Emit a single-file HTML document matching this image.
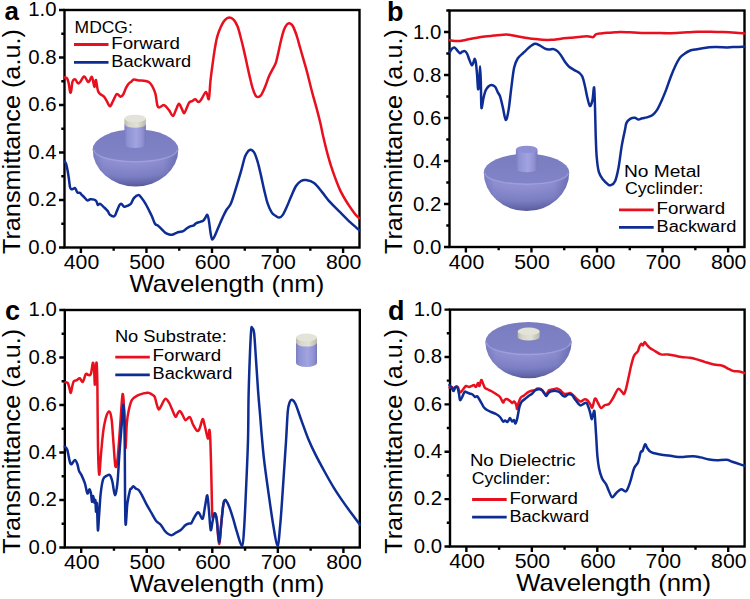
<!DOCTYPE html>
<html><head><meta charset="utf-8"><title>Transmittance spectra</title>
<style>html,body{margin:0;padding:0;background:#fff;width:750px;height:599px;overflow:hidden}</style>
</head><body><svg width="750" height="599" viewBox="0 0 750 599" style="display:block;font-family:'Liberation Sans', sans-serif"><defs>
<radialGradient id="bowl" cx="0.45" cy="0.0" r="1.05" fx="0.45" fy="0.0">
 <stop offset="0" stop-color="#9799d8"/><stop offset="0.4" stop-color="#8c8ed0"/><stop offset="0.7" stop-color="#7c7ec3"/><stop offset="0.88" stop-color="#6466aa"/><stop offset="1" stop-color="#4a4c8e"/>
</radialGradient>
<linearGradient id="bowlside" x1="0" y1="0" x2="1" y2="0">
 <stop offset="0" stop-color="#5a5ca0" stop-opacity="0.35"/><stop offset="0.12" stop-color="#5a5ca0" stop-opacity="0"/><stop offset="0.82" stop-color="#5a5ca0" stop-opacity="0"/><stop offset="1" stop-color="#4c4e92" stop-opacity="0.45"/>
</linearGradient>
<linearGradient id="topf" x1="0" y1="0" x2="0" y2="1">
 <stop offset="0" stop-color="#7a7cc0"/><stop offset="1" stop-color="#8284c8"/>
</linearGradient>
<linearGradient id="cylb" x1="0" y1="0" x2="1" y2="0">
 <stop offset="0" stop-color="#7a7dc1"/><stop offset="0.15" stop-color="#8f92d3"/><stop offset="0.55" stop-color="#a2a4e0"/><stop offset="0.85" stop-color="#8e90d2"/><stop offset="1" stop-color="#7678bc"/>
</linearGradient>
<linearGradient id="caps" x1="0" y1="0" x2="1" y2="0">
 <stop offset="0" stop-color="#b9b9ab"/><stop offset="0.2" stop-color="#d6d6ca"/><stop offset="0.6" stop-color="#e2e1d6"/><stop offset="1" stop-color="#b8b8aa"/>
</linearGradient>
</defs><g fill="#000"><text x="4.60" y="19.50" font-size="26" text-anchor="start" font-weight="bold">a</text><text x="387.00" y="21.20" font-size="27" text-anchor="start" font-weight="bold">b</text><text x="5.00" y="319.50" font-size="27" text-anchor="start" font-weight="bold">c</text><text x="388.00" y="319.50" font-size="27" text-anchor="start" font-weight="bold">d</text></g><rect x="64.50" y="10.00" width="295.00" height="237.50" fill="none" stroke="#000" stroke-width="2.4"/><path d="M80.89 247.50V253.00M113.67 247.50V250.70M146.44 247.50V253.00M179.22 247.50V250.70M212.00 247.50V253.00M244.78 247.50V250.70M277.56 247.50V253.00M310.33 247.50V250.70M343.11 247.50V253.00M64.50 247.50H59.00M64.50 223.75H61.30M64.50 200.00H59.00M64.50 176.25H61.30M64.50 152.50H59.00M64.50 128.75H61.30M64.50 105.00H59.00M64.50 81.25H61.30M64.50 57.50H59.00M64.50 33.75H61.30M64.50 10.00H59.00" stroke="#000" stroke-width="2.4" fill="none"/><text x="81.49" y="269.10" font-size="19.5" text-anchor="middle" font-weight="normal" textLength="35.5" lengthAdjust="spacingAndGlyphs">400</text><text x="147.04" y="269.10" font-size="19.5" text-anchor="middle" font-weight="normal" textLength="35.5" lengthAdjust="spacingAndGlyphs">500</text><text x="212.60" y="269.10" font-size="19.5" text-anchor="middle" font-weight="normal" textLength="35.5" lengthAdjust="spacingAndGlyphs">600</text><text x="278.16" y="269.10" font-size="19.5" text-anchor="middle" font-weight="normal" textLength="35.5" lengthAdjust="spacingAndGlyphs">700</text><text x="343.71" y="269.10" font-size="19.5" text-anchor="middle" font-weight="normal" textLength="35.5" lengthAdjust="spacingAndGlyphs">800</text><text x="56.60" y="253.70" font-size="19.5" text-anchor="end" font-weight="normal" textLength="28.3" lengthAdjust="spacingAndGlyphs">0.0</text><text x="56.60" y="206.20" font-size="19.5" text-anchor="end" font-weight="normal" textLength="28.3" lengthAdjust="spacingAndGlyphs">0.2</text><text x="56.60" y="158.70" font-size="19.5" text-anchor="end" font-weight="normal" textLength="28.3" lengthAdjust="spacingAndGlyphs">0.4</text><text x="56.60" y="111.20" font-size="19.5" text-anchor="end" font-weight="normal" textLength="28.3" lengthAdjust="spacingAndGlyphs">0.6</text><text x="56.60" y="63.70" font-size="19.5" text-anchor="end" font-weight="normal" textLength="28.3" lengthAdjust="spacingAndGlyphs">0.8</text><text x="56.60" y="16.20" font-size="19.5" text-anchor="end" font-weight="normal" textLength="28.3" lengthAdjust="spacingAndGlyphs">1.0</text><rect x="449.50" y="10.50" width="295.00" height="236.50" fill="none" stroke="#000" stroke-width="2.4"/><path d="M465.89 247.00V252.50M498.67 247.00V250.20M531.44 247.00V252.50M564.22 247.00V250.20M597.00 247.00V252.50M629.78 247.00V250.20M662.56 247.00V252.50M695.33 247.00V250.20M728.11 247.00V252.50M449.50 247.00H444.00M449.50 225.50H446.30M449.50 204.00H444.00M449.50 182.50H446.30M449.50 161.00H444.00M449.50 139.50H446.30M449.50 118.00H444.00M449.50 96.50H446.30M449.50 75.00H444.00M449.50 53.50H446.30M449.50 32.00H444.00M449.50 10.50H446.30" stroke="#000" stroke-width="2.4" fill="none"/><text x="466.49" y="268.60" font-size="19.5" text-anchor="middle" font-weight="normal" textLength="35.5" lengthAdjust="spacingAndGlyphs">400</text><text x="532.04" y="268.60" font-size="19.5" text-anchor="middle" font-weight="normal" textLength="35.5" lengthAdjust="spacingAndGlyphs">500</text><text x="597.60" y="268.60" font-size="19.5" text-anchor="middle" font-weight="normal" textLength="35.5" lengthAdjust="spacingAndGlyphs">600</text><text x="663.16" y="268.60" font-size="19.5" text-anchor="middle" font-weight="normal" textLength="35.5" lengthAdjust="spacingAndGlyphs">700</text><text x="728.71" y="268.60" font-size="19.5" text-anchor="middle" font-weight="normal" textLength="35.5" lengthAdjust="spacingAndGlyphs">800</text><text x="441.30" y="254.40" font-size="19.5" text-anchor="end" font-weight="normal" textLength="28.3" lengthAdjust="spacingAndGlyphs">0.0</text><text x="441.30" y="211.40" font-size="19.5" text-anchor="end" font-weight="normal" textLength="28.3" lengthAdjust="spacingAndGlyphs">0.2</text><text x="441.30" y="168.40" font-size="19.5" text-anchor="end" font-weight="normal" textLength="28.3" lengthAdjust="spacingAndGlyphs">0.4</text><text x="441.30" y="125.40" font-size="19.5" text-anchor="end" font-weight="normal" textLength="28.3" lengthAdjust="spacingAndGlyphs">0.6</text><text x="441.30" y="82.40" font-size="19.5" text-anchor="end" font-weight="normal" textLength="28.3" lengthAdjust="spacingAndGlyphs">0.8</text><text x="441.30" y="39.40" font-size="19.5" text-anchor="end" font-weight="normal" textLength="28.3" lengthAdjust="spacingAndGlyphs">1.0</text><rect x="64.80" y="310.00" width="295.00" height="237.50" fill="none" stroke="#000" stroke-width="2.4"/><path d="M81.19 547.50V553.00M113.97 547.50V550.70M146.74 547.50V553.00M179.52 547.50V550.70M212.30 547.50V553.00M245.08 547.50V550.70M277.86 547.50V553.00M310.63 547.50V550.70M343.41 547.50V553.00M64.80 547.50H59.30M64.80 523.75H61.60M64.80 500.00H59.30M64.80 476.25H61.60M64.80 452.50H59.30M64.80 428.75H61.60M64.80 405.00H59.30M64.80 381.25H61.60M64.80 357.50H59.30M64.80 333.75H61.60M64.80 310.00H59.30" stroke="#000" stroke-width="2.4" fill="none"/><text x="81.79" y="569.10" font-size="19.5" text-anchor="middle" font-weight="normal" textLength="35.5" lengthAdjust="spacingAndGlyphs">400</text><text x="147.34" y="569.10" font-size="19.5" text-anchor="middle" font-weight="normal" textLength="35.5" lengthAdjust="spacingAndGlyphs">500</text><text x="212.90" y="569.10" font-size="19.5" text-anchor="middle" font-weight="normal" textLength="35.5" lengthAdjust="spacingAndGlyphs">600</text><text x="278.46" y="569.10" font-size="19.5" text-anchor="middle" font-weight="normal" textLength="35.5" lengthAdjust="spacingAndGlyphs">700</text><text x="344.01" y="569.10" font-size="19.5" text-anchor="middle" font-weight="normal" textLength="35.5" lengthAdjust="spacingAndGlyphs">800</text><text x="56.90" y="553.70" font-size="19.5" text-anchor="end" font-weight="normal" textLength="28.3" lengthAdjust="spacingAndGlyphs">0.0</text><text x="56.90" y="506.20" font-size="19.5" text-anchor="end" font-weight="normal" textLength="28.3" lengthAdjust="spacingAndGlyphs">0.2</text><text x="56.90" y="458.70" font-size="19.5" text-anchor="end" font-weight="normal" textLength="28.3" lengthAdjust="spacingAndGlyphs">0.4</text><text x="56.90" y="411.20" font-size="19.5" text-anchor="end" font-weight="normal" textLength="28.3" lengthAdjust="spacingAndGlyphs">0.6</text><text x="56.90" y="363.70" font-size="19.5" text-anchor="end" font-weight="normal" textLength="28.3" lengthAdjust="spacingAndGlyphs">0.8</text><text x="56.90" y="316.20" font-size="19.5" text-anchor="end" font-weight="normal" textLength="28.3" lengthAdjust="spacingAndGlyphs">1.0</text><rect x="450.00" y="309.60" width="294.60" height="236.90" fill="none" stroke="#000" stroke-width="2.4"/><path d="M466.37 546.50V552.00M499.10 546.50V549.70M531.83 546.50V552.00M564.57 546.50V549.70M597.30 546.50V552.00M630.03 546.50V549.70M662.77 546.50V552.00M695.50 546.50V549.70M728.23 546.50V552.00M450.00 546.50H444.50M450.00 522.81H446.80M450.00 499.12H444.50M450.00 475.43H446.80M450.00 451.74H444.50M450.00 428.05H446.80M450.00 404.36H444.50M450.00 380.67H446.80M450.00 356.98H444.50M450.00 333.29H446.80M450.00 309.60H444.50" stroke="#000" stroke-width="2.4" fill="none"/><text x="466.97" y="568.10" font-size="19.5" text-anchor="middle" font-weight="normal" textLength="35.5" lengthAdjust="spacingAndGlyphs">400</text><text x="532.43" y="568.10" font-size="19.5" text-anchor="middle" font-weight="normal" textLength="35.5" lengthAdjust="spacingAndGlyphs">500</text><text x="597.90" y="568.10" font-size="19.5" text-anchor="middle" font-weight="normal" textLength="35.5" lengthAdjust="spacingAndGlyphs">600</text><text x="663.37" y="568.10" font-size="19.5" text-anchor="middle" font-weight="normal" textLength="35.5" lengthAdjust="spacingAndGlyphs">700</text><text x="728.83" y="568.10" font-size="19.5" text-anchor="middle" font-weight="normal" textLength="35.5" lengthAdjust="spacingAndGlyphs">800</text><text x="442.10" y="552.70" font-size="19.5" text-anchor="end" font-weight="normal" textLength="28.3" lengthAdjust="spacingAndGlyphs">0.0</text><text x="442.10" y="505.32" font-size="19.5" text-anchor="end" font-weight="normal" textLength="28.3" lengthAdjust="spacingAndGlyphs">0.2</text><text x="442.10" y="457.94" font-size="19.5" text-anchor="end" font-weight="normal" textLength="28.3" lengthAdjust="spacingAndGlyphs">0.4</text><text x="442.10" y="410.56" font-size="19.5" text-anchor="end" font-weight="normal" textLength="28.3" lengthAdjust="spacingAndGlyphs">0.6</text><text x="442.10" y="363.18" font-size="19.5" text-anchor="end" font-weight="normal" textLength="28.3" lengthAdjust="spacingAndGlyphs">0.8</text><text x="442.10" y="315.80" font-size="19.5" text-anchor="end" font-weight="normal" textLength="28.3" lengthAdjust="spacingAndGlyphs">1.0</text><text transform="translate(19.60,141.60) rotate(-90)" x="0" y="0" font-size="24.8" text-anchor="middle" textLength="225" lengthAdjust="spacingAndGlyphs">Transmittance (a.u.)</text><text transform="translate(401.60,141.60) rotate(-90)" x="0" y="0" font-size="24.8" text-anchor="middle" textLength="225" lengthAdjust="spacingAndGlyphs">Transmittance (a.u.)</text><text transform="translate(19.60,441.30) rotate(-90)" x="0" y="0" font-size="24.8" text-anchor="middle" textLength="225" lengthAdjust="spacingAndGlyphs">Transmittance (a.u.)</text><text transform="translate(402.30,441.30) rotate(-90)" x="0" y="0" font-size="24.8" text-anchor="middle" textLength="225" lengthAdjust="spacingAndGlyphs">Transmittance (a.u.)</text><text x="129.50" y="292.00" font-size="24" text-anchor="start" font-weight="normal" textLength="194.8" lengthAdjust="spacingAndGlyphs">Wavelength (nm)</text><text x="129.50" y="591.80" font-size="24" text-anchor="start" font-weight="normal" textLength="194.8" lengthAdjust="spacingAndGlyphs">Wavelength (nm)</text><text x="516.20" y="591.20" font-size="24" text-anchor="start" font-weight="normal" textLength="194.8" lengthAdjust="spacingAndGlyphs">Wavelength (nm)</text><text x="74.60" y="33.00" font-size="16" text-anchor="start" font-weight="normal" textLength="58.2" lengthAdjust="spacingAndGlyphs">MDCG:</text><path d="M74.00 44.50H108.50" stroke="#e8101e" stroke-width="2.8"/><text x="111.30" y="48.70" font-size="16" text-anchor="start" font-weight="normal" textLength="68.6" lengthAdjust="spacingAndGlyphs">Forward</text><path d="M74.00 62.30H108.50" stroke="#0e2d94" stroke-width="2.8"/><text x="111.30" y="66.70" font-size="16" text-anchor="start" font-weight="normal" textLength="79.8" lengthAdjust="spacingAndGlyphs">Backward</text><text x="623.90" y="176.70" font-size="16" text-anchor="start" font-weight="normal" textLength="76.7" lengthAdjust="spacingAndGlyphs">No Metal</text><text x="625.00" y="193.50" font-size="16" text-anchor="start" font-weight="normal" textLength="78.5" lengthAdjust="spacingAndGlyphs">Cyclinder:</text><path d="M619.00 209.90H653.70" stroke="#e8101e" stroke-width="2.8"/><text x="656.60" y="213.90" font-size="16" text-anchor="start" font-weight="normal" textLength="68.6" lengthAdjust="spacingAndGlyphs">Forward</text><path d="M619.00 227.40H653.70" stroke="#0e2d94" stroke-width="2.8"/><text x="656.60" y="231.60" font-size="16" text-anchor="start" font-weight="normal" textLength="79.8" lengthAdjust="spacingAndGlyphs">Backward</text><text x="114.90" y="341.60" font-size="16" text-anchor="start" font-weight="normal" textLength="111.9" lengthAdjust="spacingAndGlyphs">No Substrate:</text><path d="M115.30 357.10H149.80" stroke="#e8101e" stroke-width="2.8"/><text x="152.60" y="361.40" font-size="16" text-anchor="start" font-weight="normal" textLength="68.6" lengthAdjust="spacingAndGlyphs">Forward</text><path d="M115.30 374.80H149.80" stroke="#0e2d94" stroke-width="2.8"/><text x="152.60" y="379.10" font-size="16" text-anchor="start" font-weight="normal" textLength="79.8" lengthAdjust="spacingAndGlyphs">Backward</text><text x="469.90" y="465.60" font-size="16" text-anchor="start" font-weight="normal" textLength="105.7" lengthAdjust="spacingAndGlyphs">No Dielectric</text><text x="471.80" y="484.00" font-size="16" text-anchor="start" font-weight="normal" textLength="78.5" lengthAdjust="spacingAndGlyphs">Cyclinder:</text><path d="M472.10 499.50H506.70" stroke="#e8101e" stroke-width="2.8"/><text x="509.40" y="503.60" font-size="16" text-anchor="start" font-weight="normal" textLength="68.6" lengthAdjust="spacingAndGlyphs">Forward</text><path d="M472.10 517.20H506.70" stroke="#0e2d94" stroke-width="2.8"/><text x="509.40" y="521.90" font-size="16" text-anchor="start" font-weight="normal" textLength="79.8" lengthAdjust="spacingAndGlyphs">Backward</text><path d="M92.70 149.30A42.80 37.20 0 0 0 178.30 149.30Z" fill="url(#bowl)"/><path d="M92.70 149.30A42.80 37.20 0 0 0 178.30 149.30Z" fill="url(#bowlside)"/><path d="M92.70 149.30A42.80 20.00 0 0 1 178.30 149.30A42.80 11.90 0 0 1 92.70 149.30Z" fill="url(#topf)"/><path d="M93.70 149.80A41.80 11.90 0 0 0 177.30 149.80" fill="none" stroke="#a8aae4" stroke-width="1.4" opacity="0.6"/><path d="M124.40 124.00V144.20A10.75 3.85 0 0 0 145.90 144.20V124.00Z" fill="url(#cylb)"/><path d="M124.40 118.50V124.00A10.75 3.85 0 0 0 145.90 124.00V118.50Z" fill="url(#caps)"/><ellipse cx="135.15" cy="118.50" rx="10.75" ry="3.85" fill="#e3e3d9"/><path d="M483.80 172.50A42.70 38.60 0 0 0 569.20 172.50Z" fill="url(#bowl)"/><path d="M483.80 172.50A42.70 38.60 0 0 0 569.20 172.50Z" fill="url(#bowlside)"/><path d="M483.80 172.50A42.70 18.80 0 0 1 569.20 172.50A42.70 11.20 0 0 1 483.80 172.50Z" fill="url(#topf)"/><path d="M484.80 173.00A41.70 11.20 0 0 0 568.20 173.00" fill="none" stroke="#a8aae4" stroke-width="1.4" opacity="0.6"/><path d="M515.90 149.40V168.70A10.80 3.60 0 0 0 537.50 168.70V149.40Z" fill="url(#cylb)"/><ellipse cx="526.70" cy="149.40" rx="10.80" ry="3.60" fill="#8e90d3"/><path d="M296.00 342.60V362.90A10.50 4.00 0 0 0 317.00 362.90V342.60Z" fill="url(#cylb)"/><path d="M296.00 337.50V342.60A10.50 4.00 0 0 0 317.00 342.60V337.50Z" fill="url(#caps)"/><ellipse cx="306.50" cy="337.50" rx="10.50" ry="4.00" fill="#e3e3d9"/><path d="M485.40 341.70A43.10 36.60 0 0 0 571.60 341.70Z" fill="url(#bowl)"/><path d="M485.40 341.70A43.10 36.60 0 0 0 571.60 341.70Z" fill="url(#bowlside)"/><path d="M485.40 341.70A43.10 19.80 0 0 1 571.60 341.70A43.10 12.30 0 0 1 485.40 341.70Z" fill="url(#topf)"/><path d="M486.40 342.20A42.10 12.30 0 0 0 570.60 342.20" fill="none" stroke="#a8aae4" stroke-width="1.4" opacity="0.6"/><path d="M517.70 331.30V336.90A11.00 3.70 0 0 0 539.70 336.90V331.30Z" fill="url(#caps)"/><ellipse cx="528.70" cy="331.30" rx="11.00" ry="3.70" fill="#e3e3d9"/><path d="M64.50 77.50C64.95 77.67 66.48 77.43 67.20 78.50C67.92 79.57 68.30 81.58 68.80 83.90C69.30 86.22 69.78 91.33 70.20 92.40C70.62 93.47 70.92 92.08 71.30 90.30C71.68 88.52 71.85 83.52 72.50 81.70C73.15 79.88 74.30 79.13 75.20 79.40C76.10 79.67 77.10 82.82 77.90 83.30C78.70 83.78 79.03 83.42 80.00 82.30C80.97 81.18 82.72 77.23 83.70 76.60C84.68 75.97 85.18 77.60 85.90 78.50C86.62 79.40 87.38 81.63 88.00 82.00C88.62 82.37 89.02 81.55 89.60 80.70C90.18 79.85 90.97 77.08 91.50 76.90C92.03 76.72 92.32 77.90 92.80 79.60C93.28 81.30 93.90 87.02 94.40 87.10C94.90 87.18 95.45 80.82 95.80 80.10C96.15 79.38 96.12 80.93 96.50 82.80C96.88 84.67 97.38 89.35 98.10 91.30C98.82 93.25 99.82 93.60 100.80 94.50C101.78 95.40 103.02 95.63 104.00 96.70C104.98 97.77 105.72 99.30 106.70 100.90C107.68 102.50 108.83 106.30 109.90 106.30C110.97 106.30 111.95 102.95 113.10 100.90C114.25 98.85 115.57 94.70 116.80 94.00C118.03 93.30 119.43 96.62 120.50 96.70C121.57 96.78 122.30 95.93 123.20 94.50C124.10 93.07 125.02 89.87 125.90 88.10C126.78 86.33 127.62 84.97 128.50 83.90C129.38 82.83 130.30 82.42 131.20 81.70C132.10 80.98 132.65 79.80 133.90 79.60C135.15 79.40 137.02 80.32 138.70 80.50C140.38 80.68 142.37 80.47 144.00 80.70C145.63 80.93 147.30 81.27 148.50 81.90C149.70 82.53 150.40 83.43 151.20 84.50C152.00 85.57 152.58 86.70 153.30 88.30C154.02 89.90 154.80 91.17 155.50 94.10C156.20 97.03 156.78 103.70 157.50 105.90C158.22 108.10 158.80 107.47 159.80 107.30C160.80 107.13 162.42 104.98 163.50 104.90C164.58 104.82 165.28 105.78 166.30 106.80C167.32 107.82 168.50 109.45 169.60 111.00C170.70 112.55 171.88 116.18 172.90 116.10C173.92 116.02 174.70 112.55 175.70 110.50C176.70 108.45 177.90 104.10 178.90 103.80C179.90 103.50 180.83 107.12 181.70 108.70C182.57 110.28 183.32 113.30 184.10 113.30C184.88 113.30 185.55 110.48 186.40 108.70C187.25 106.92 188.27 103.85 189.20 102.60C190.13 101.35 190.98 101.75 192.00 101.20C193.02 100.65 194.22 99.15 195.30 99.30C196.38 99.45 197.48 102.10 198.50 102.10C199.52 102.10 200.15 101.00 201.40 99.30C202.65 97.60 204.77 91.95 206.00 91.90C207.23 91.85 208.05 100.88 208.80 99.00C209.55 97.12 209.83 86.67 210.50 80.60C211.17 74.53 212.05 68.10 212.80 62.60C213.55 57.10 214.25 51.98 215.00 47.60C215.75 43.22 216.30 39.82 217.30 36.30C218.30 32.78 219.75 29.18 221.00 26.50C222.25 23.82 223.42 21.70 224.80 20.20C226.18 18.70 227.80 17.57 229.30 17.50C230.80 17.43 232.42 18.30 233.80 19.80C235.18 21.30 236.47 23.63 237.60 26.50C238.73 29.37 239.60 33.23 240.60 37.00C241.60 40.77 242.60 44.83 243.60 49.10C244.60 53.37 245.60 58.10 246.60 62.60C247.60 67.10 248.60 71.85 249.60 76.10C250.60 80.35 251.60 84.85 252.60 88.10C253.60 91.35 254.73 94.10 255.60 95.60C256.47 97.10 256.93 97.10 257.80 97.10C258.67 97.10 259.67 97.10 260.80 95.60C261.93 94.10 263.22 91.35 264.60 88.10C265.98 84.85 267.72 79.35 269.10 76.10C270.48 72.85 271.77 70.85 272.90 68.60C274.03 66.35 275.03 65.10 275.90 62.60C276.77 60.10 277.23 57.37 278.10 53.60C278.97 49.83 280.10 44.02 281.10 40.00C282.10 35.98 283.10 32.12 284.10 29.50C285.10 26.88 286.20 25.33 287.10 24.30C288.00 23.27 288.55 23.02 289.50 23.30C290.45 23.58 291.63 24.02 292.80 26.00C293.97 27.98 295.27 31.53 296.50 35.20C297.73 38.87 298.97 43.72 300.20 48.00C301.43 52.28 302.68 56.62 303.90 60.90C305.12 65.18 306.13 68.50 307.50 73.70C308.87 78.90 310.57 86.28 312.10 92.10C313.63 97.92 315.32 103.40 316.70 108.60C318.08 113.80 319.33 118.73 320.40 123.30C321.47 127.87 321.82 130.53 323.10 136.00C324.38 141.47 326.43 150.08 328.10 156.10C329.77 162.12 331.10 166.43 333.10 172.10C335.10 177.77 337.60 184.75 340.10 190.10C342.60 195.45 345.58 200.18 348.10 204.20C350.62 208.22 353.35 211.87 355.20 214.20C357.05 216.53 358.53 217.53 359.20 218.20" stroke="#e8101e" stroke-width="2.5" fill="none" stroke-linejoin="round" stroke-linecap="round"/><path d="M64.80 161.60C65.03 162.02 65.75 162.68 66.20 164.10C66.65 165.52 67.07 167.77 67.50 170.10C67.93 172.43 68.38 175.27 68.80 178.10C69.22 180.93 69.60 185.27 70.00 187.10C70.40 188.93 70.70 188.80 71.20 189.10C71.70 189.40 72.40 189.10 73.00 188.90C73.60 188.70 74.30 187.78 74.80 187.90C75.30 188.02 75.55 188.82 76.00 189.60C76.45 190.38 76.83 192.05 77.50 192.60C78.17 193.15 79.33 192.57 80.00 192.90C80.67 193.23 80.82 193.90 81.50 194.60C82.18 195.30 83.13 196.13 84.10 197.10C85.07 198.07 86.27 200.03 87.30 200.40C88.33 200.77 89.17 199.43 90.30 199.30C91.43 199.17 93.10 199.30 94.10 199.60C95.10 199.90 95.68 200.22 96.30 201.10C96.92 201.98 97.17 204.45 97.80 204.90C98.43 205.35 99.10 203.43 100.10 203.80C101.10 204.17 102.55 205.92 103.80 207.10C105.05 208.28 106.58 209.63 107.60 210.90C108.62 212.17 108.77 213.82 109.90 214.70C111.03 215.58 113.28 216.70 114.40 216.20C115.52 215.70 115.73 213.58 116.60 211.70C117.47 209.82 118.80 206.22 119.60 204.90C120.40 203.58 120.63 203.48 121.40 203.80C122.17 204.12 123.12 206.50 124.20 206.80C125.28 207.10 126.78 206.10 127.90 205.60C129.02 205.10 129.90 205.05 130.90 203.80C131.90 202.55 132.65 199.55 133.90 198.10C135.15 196.65 137.15 195.15 138.40 195.10C139.65 195.05 140.20 196.35 141.40 197.80C142.60 199.25 144.37 201.77 145.60 203.80C146.83 205.83 147.75 207.92 148.80 210.00C149.85 212.08 150.87 214.00 151.90 216.30C152.93 218.60 153.97 222.23 155.00 223.80C156.03 225.37 157.05 224.87 158.10 225.70C159.15 226.53 160.15 227.65 161.30 228.80C162.45 229.95 163.85 231.72 165.00 232.60C166.15 233.48 167.05 233.73 168.20 234.10C169.35 234.47 170.65 234.95 171.90 234.80C173.15 234.65 174.55 233.67 175.70 233.20C176.85 232.73 177.55 232.35 178.80 232.00C180.05 231.65 181.85 231.73 183.20 231.10C184.55 230.47 185.75 229.00 186.90 228.20C188.05 227.40 189.05 226.72 190.10 226.30C191.15 225.88 192.17 226.22 193.20 225.70C194.23 225.18 195.15 223.83 196.30 223.20C197.45 222.57 198.95 222.32 200.10 221.90C201.25 221.48 202.37 221.32 203.20 220.70C204.03 220.08 204.42 219.18 205.10 218.20C205.78 217.22 206.68 214.48 207.30 214.80C207.92 215.12 208.23 216.93 208.80 220.10C209.37 223.27 210.12 230.57 210.70 233.80C211.28 237.03 211.57 239.28 212.30 239.50C213.03 239.72 214.02 237.30 215.10 235.10C216.18 232.90 217.55 229.22 218.80 226.30C220.05 223.38 221.33 220.32 222.60 217.60C223.87 214.88 225.02 212.37 226.40 210.00C227.78 207.63 229.32 207.00 230.90 203.40C232.48 199.80 234.23 193.68 235.90 188.40C237.57 183.12 239.38 176.98 240.90 171.70C242.42 166.42 243.75 160.17 245.00 156.70C246.25 153.23 247.42 152.07 248.40 150.90C249.38 149.73 249.93 149.43 250.90 149.70C251.87 149.97 253.08 150.50 254.20 152.50C255.32 154.50 256.48 157.93 257.60 161.70C258.72 165.47 259.80 170.37 260.90 175.10C262.00 179.83 263.08 185.38 264.20 190.10C265.32 194.82 266.33 199.65 267.60 203.40C268.87 207.15 270.42 210.50 271.80 212.60C273.18 214.70 274.65 215.17 275.90 216.00C277.15 216.83 278.18 217.75 279.30 217.60C280.42 217.45 281.35 216.90 282.60 215.10C283.85 213.30 285.40 209.85 286.80 206.80C288.20 203.75 289.47 200.27 291.00 196.80C292.53 193.33 294.33 188.63 296.00 186.00C297.67 183.37 299.32 181.98 301.00 181.00C302.68 180.02 303.92 179.75 306.10 180.10C308.28 180.45 311.43 181.10 314.10 183.10C316.77 185.10 319.43 188.92 322.10 192.10C324.77 195.28 327.10 198.85 330.10 202.20C333.10 205.55 336.77 208.87 340.10 212.20C343.43 215.53 346.92 219.20 350.10 222.20C353.28 225.20 357.68 228.87 359.20 230.20" stroke="#0e2d94" stroke-width="2.5" fill="none" stroke-linejoin="round" stroke-linecap="round"/><path d="M449.80 40.20C451.03 40.35 454.45 41.17 457.20 41.10C459.95 41.03 463.25 40.32 466.30 39.80C469.35 39.28 472.43 38.55 475.50 38.00C478.57 37.45 481.63 36.90 484.70 36.50C487.77 36.10 490.85 35.90 493.90 35.60C496.95 35.30 500.55 34.85 503.00 34.70C505.45 34.55 506.45 34.47 508.60 34.70C510.75 34.93 513.15 35.58 515.90 36.10C518.65 36.62 522.25 37.37 525.10 37.80C527.95 38.23 530.12 38.37 533.00 38.70C535.88 39.03 539.28 39.62 542.40 39.80C545.52 39.98 548.60 39.98 551.70 39.80C554.80 39.62 557.88 39.03 561.00 38.70C564.12 38.37 567.50 38.08 570.40 37.80C573.30 37.52 575.62 37.25 578.40 37.00C581.18 36.75 584.65 36.28 587.10 36.30C589.55 36.32 591.65 37.42 593.10 37.10C594.55 36.78 594.47 35.02 595.80 34.40C597.13 33.78 599.10 33.68 601.10 33.40C603.10 33.12 605.48 32.88 607.80 32.70C610.12 32.52 612.80 32.42 615.00 32.30C617.20 32.18 617.85 31.97 621.00 32.00C624.15 32.03 629.92 32.35 633.90 32.50C637.88 32.65 641.22 32.83 644.90 32.90C648.58 32.97 652.02 32.85 656.00 32.90C659.98 32.95 664.22 33.27 668.80 33.20C673.38 33.13 679.97 32.67 683.50 32.50C687.03 32.33 687.53 32.33 690.00 32.20C692.47 32.07 694.82 31.78 698.30 31.70C701.78 31.62 706.72 31.63 710.90 31.70C715.08 31.77 719.23 31.92 723.40 32.10C727.57 32.28 732.42 32.58 735.90 32.80C739.38 33.02 742.90 33.30 744.30 33.40" stroke="#e8101e" stroke-width="2.5" fill="none" stroke-linejoin="round" stroke-linecap="round"/><path d="M449.80 52.10C450.12 51.58 450.93 49.77 451.70 49.00C452.47 48.23 453.48 47.28 454.40 47.50C455.32 47.72 456.27 49.35 457.20 50.30C458.13 51.25 459.15 52.97 460.00 53.20C460.85 53.43 461.52 52.05 462.30 51.70C463.08 51.35 463.92 50.80 464.70 51.10C465.48 51.40 466.22 52.03 467.00 53.50C467.78 54.97 468.62 57.97 469.40 59.90C470.18 61.83 471.02 64.72 471.70 65.10C472.38 65.48 473.02 63.27 473.50 62.20C473.98 61.13 474.22 58.70 474.60 58.70C474.98 58.70 475.40 59.67 475.80 62.20C476.20 64.73 476.62 69.42 477.00 73.90C477.38 78.38 477.72 87.93 478.10 89.10C478.48 90.27 478.97 84.70 479.30 80.90C479.63 77.10 479.85 66.30 480.10 66.30C480.35 66.30 480.60 74.37 480.80 80.90C481.00 87.43 481.10 101.20 481.30 105.50C481.50 109.80 481.65 107.87 482.00 106.70C482.35 105.53 482.78 101.23 483.40 98.50C484.02 95.77 484.82 92.35 485.70 90.30C486.58 88.25 487.72 87.08 488.70 86.20C489.68 85.32 490.53 84.90 491.60 85.00C492.67 85.10 494.03 85.53 495.10 86.80C496.17 88.07 497.13 90.88 498.00 92.60C498.87 94.32 499.47 94.52 500.30 97.10C501.13 99.68 502.08 104.28 503.00 108.10C503.92 111.92 504.87 119.70 505.80 120.00C506.73 120.30 507.68 115.25 508.60 109.90C509.52 104.55 510.38 94.93 511.30 87.90C512.22 80.87 513.03 72.60 514.10 67.70C515.17 62.80 516.18 60.95 517.70 58.50C519.22 56.05 521.98 54.18 523.20 53.00C524.42 51.82 524.03 52.33 525.00 51.40C525.97 50.47 527.33 48.67 529.00 47.40C530.67 46.13 533.22 44.13 535.00 43.80C536.78 43.47 538.03 44.58 539.70 45.40C541.37 46.22 543.45 48.00 545.00 48.70C546.55 49.40 547.55 49.53 549.00 49.60C550.45 49.67 552.25 48.80 553.70 49.10C555.15 49.40 556.48 50.35 557.70 51.40C558.92 52.45 559.77 53.62 561.00 55.40C562.23 57.18 563.75 60.22 565.10 62.10C566.45 63.98 567.55 65.37 569.10 66.70C570.65 68.03 572.73 69.10 574.40 70.10C576.07 71.10 577.77 71.60 579.10 72.70C580.43 73.80 581.40 74.35 582.40 76.70C583.40 79.05 584.33 83.57 585.10 86.80C585.87 90.03 586.22 92.92 587.00 96.10C587.78 99.28 588.90 105.18 589.80 105.90C590.70 106.62 591.68 103.48 592.40 100.40C593.12 97.32 593.67 86.30 594.10 87.40C594.53 88.50 594.73 99.03 595.00 107.00C595.27 114.97 595.42 126.87 595.70 135.20C595.98 143.53 596.17 150.83 596.70 157.00C597.23 163.17 597.80 168.40 598.90 172.20C600.00 176.00 601.85 177.82 603.30 179.80C604.75 181.78 606.33 183.20 607.60 184.10C608.87 185.00 609.63 185.73 610.90 185.20C612.17 184.67 613.93 183.80 615.20 180.90C616.47 178.00 617.42 173.60 618.50 167.80C619.58 162.00 620.62 152.43 621.70 146.10C622.78 139.77 624.20 133.67 625.00 129.80C625.80 125.93 625.63 124.72 626.50 122.90C627.37 121.08 628.82 119.75 630.20 118.90C631.58 118.05 633.42 117.68 634.80 117.80C636.18 117.92 637.27 119.52 638.50 119.60C639.73 119.68 640.82 118.67 642.20 118.30C643.58 117.93 645.12 117.92 646.80 117.40C648.48 116.88 650.62 116.42 652.30 115.20C653.98 113.98 655.37 112.48 656.90 110.10C658.43 107.72 659.97 104.27 661.50 100.90C663.03 97.53 664.57 93.88 666.10 89.90C667.63 85.92 669.17 80.98 670.70 77.00C672.23 73.02 673.77 69.22 675.30 66.00C676.83 62.78 678.22 59.85 679.90 57.70C681.58 55.55 683.57 54.33 685.40 53.10C687.23 51.87 689.30 50.88 690.90 50.30C692.50 49.72 693.07 49.95 695.00 49.60C696.93 49.25 699.17 48.62 702.50 48.20C705.83 47.78 710.82 47.23 715.00 47.10C719.18 46.97 724.12 47.43 727.60 47.40C731.08 47.37 733.12 47.03 735.90 46.90C738.68 46.77 742.90 46.65 744.30 46.60" stroke="#0e2d94" stroke-width="2.5" fill="none" stroke-linejoin="round" stroke-linecap="round"/><path d="M65.50 382.30C65.88 382.43 67.17 382.22 67.80 383.10C68.43 383.98 68.80 385.97 69.30 387.60C69.80 389.23 70.30 393.15 70.80 392.90C71.30 392.65 71.80 388.03 72.30 386.10C72.80 384.17 73.05 382.30 73.80 381.30C74.55 380.30 75.80 380.60 76.80 380.10C77.80 379.60 78.80 378.00 79.80 378.30C80.80 378.60 81.80 382.60 82.80 381.90C83.80 381.20 84.92 375.28 85.80 374.10C86.68 372.92 87.27 374.80 88.10 374.80C88.93 374.80 90.00 376.10 90.80 374.10C91.60 372.10 92.35 363.57 92.90 362.80C93.45 362.03 93.78 365.87 94.10 369.50C94.42 373.13 94.55 383.83 94.80 384.60C95.05 385.37 95.30 377.73 95.60 374.10C95.90 370.47 96.30 360.70 96.60 362.80C96.90 364.90 97.17 372.68 97.40 386.70C97.63 400.72 97.70 432.27 98.00 446.90C98.30 461.53 98.72 473.10 99.20 474.50C99.68 475.90 100.20 462.68 100.90 455.30C101.60 447.92 102.43 436.90 103.40 430.20C104.37 423.50 105.65 418.17 106.70 415.10C107.75 412.03 108.87 410.97 109.70 411.80C110.53 412.63 111.08 415.08 111.70 420.10C112.32 425.12 112.78 434.23 113.40 441.90C114.02 449.57 114.70 463.32 115.40 466.10C116.10 468.88 116.82 465.15 117.60 458.60C118.38 452.05 119.27 437.53 120.10 426.80C120.93 416.07 121.90 396.43 122.60 394.20C123.30 391.97 123.82 404.43 124.30 413.40C124.78 422.37 125.08 446.32 125.50 448.00C125.92 449.68 126.25 429.82 126.80 423.50C127.35 417.18 127.97 414.00 128.80 410.10C129.63 406.20 130.47 402.47 131.80 400.10C133.13 397.73 134.85 397.02 136.80 395.90C138.75 394.78 141.60 393.93 143.50 393.40C145.40 392.87 146.88 392.58 148.20 392.70C149.52 392.82 150.33 393.43 151.40 394.10C152.47 394.77 153.72 395.02 154.60 396.70C155.48 398.38 155.98 402.07 156.70 404.20C157.42 406.33 158.10 409.32 158.90 409.50C159.70 409.68 160.43 407.07 161.50 405.30C162.57 403.53 164.05 399.35 165.30 398.90C166.55 398.45 167.93 401.00 169.00 402.60C170.07 404.20 170.63 406.18 171.70 408.50C172.77 410.82 174.43 415.62 175.40 416.50C176.37 417.38 176.78 414.70 177.50 413.80C178.22 412.90 178.90 411.02 179.70 411.10C180.50 411.18 181.33 412.78 182.30 414.30C183.27 415.82 184.25 419.75 185.50 420.20C186.75 420.65 188.55 416.28 189.80 417.00C191.05 417.72 191.75 422.18 193.00 424.50C194.25 426.82 196.15 430.37 197.30 430.90C198.45 431.43 199.02 429.67 199.90 427.70C200.78 425.73 201.80 419.47 202.60 419.10C203.40 418.73 203.98 422.83 204.70 425.50C205.42 428.17 206.30 432.97 206.90 435.10C207.50 437.23 207.87 439.18 208.30 438.30C208.73 437.42 209.15 429.23 209.50 429.80C209.85 430.37 210.10 434.28 210.40 441.70C210.70 449.12 211.03 463.42 211.30 474.30C211.57 485.18 211.78 499.75 212.00 507.00C212.22 514.25 212.15 516.75 212.60 517.80C213.05 518.85 214.02 513.05 214.70 513.30C215.38 513.55 215.97 514.20 216.70 519.30C217.43 524.40 218.33 543.23 219.10 543.90C219.87 544.57 220.60 529.83 221.30 523.30C222.00 516.77 222.63 508.58 223.30 504.70C223.97 500.82 224.97 500.78 225.30 500.00" stroke="#e8101e" stroke-width="2.5" fill="none" stroke-linejoin="round" stroke-linecap="round"/><path d="M64.80 446.70C65.22 447.25 66.47 447.50 67.30 450.00C68.13 452.50 69.10 459.33 69.80 461.70C70.50 464.07 70.65 464.48 71.50 464.20C72.35 463.92 73.92 460.00 74.90 460.00C75.88 460.00 76.72 462.38 77.40 464.20C78.08 466.02 78.32 469.08 79.00 470.90C79.68 472.72 80.52 473.02 81.50 475.10C82.48 477.18 83.92 480.35 84.90 483.40C85.88 486.45 86.65 492.43 87.40 493.40C88.15 494.37 88.80 489.20 89.40 489.20C90.00 489.20 90.57 491.30 91.00 493.40C91.43 495.50 91.63 501.38 92.00 501.80C92.37 502.22 92.80 495.77 93.20 495.90C93.60 496.03 94.03 501.90 94.40 502.60C94.77 503.30 95.13 498.57 95.40 500.10C95.67 501.63 95.75 511.25 96.00 511.80C96.25 512.35 96.58 500.33 96.90 503.40C97.22 506.47 97.53 528.25 97.90 530.20C98.27 532.15 98.63 521.23 99.10 515.10C99.57 508.97 100.02 499.38 100.70 493.40C101.38 487.42 102.22 482.12 103.20 479.20C104.18 476.28 105.48 476.58 106.60 475.90C107.72 475.22 108.93 474.13 109.90 475.10C110.87 476.07 111.57 478.37 112.40 481.70C113.23 485.03 114.07 494.82 114.90 495.10C115.73 495.38 116.67 490.03 117.40 483.40C118.13 476.77 118.57 465.28 119.30 455.30C120.03 445.32 121.12 431.87 121.80 423.50C122.48 415.13 122.93 403.98 123.40 405.10C123.87 406.22 124.27 410.80 124.60 430.20C124.93 449.60 124.93 509.30 125.40 521.50C125.87 533.70 126.63 508.63 127.40 503.40C128.17 498.17 129.35 492.55 130.00 490.10C130.65 487.65 130.75 489.33 131.30 488.70C131.85 488.07 132.52 486.30 133.30 486.30C134.08 486.30 135.10 488.08 136.00 488.70C136.90 489.32 137.70 488.90 138.70 490.00C139.70 491.10 140.78 493.08 142.00 495.30C143.22 497.52 144.45 500.40 146.00 503.30C147.55 506.20 149.63 509.80 151.30 512.70C152.97 515.60 154.43 518.70 156.00 520.70C157.57 522.70 159.25 523.03 160.70 524.70C162.15 526.37 163.37 529.10 164.70 530.70C166.03 532.30 167.48 533.57 168.70 534.30C169.92 535.03 170.78 535.37 172.00 535.10C173.22 534.83 174.55 533.55 176.00 532.70C177.45 531.85 179.15 531.23 180.70 530.00C182.25 528.77 183.97 526.37 185.30 525.30C186.63 524.23 187.70 523.97 188.70 523.60C189.70 523.23 190.42 524.03 191.30 523.10C192.18 522.17 193.00 519.73 194.00 518.00C195.00 516.27 196.42 513.48 197.30 512.70C198.18 511.92 198.40 512.30 199.30 513.30C200.20 514.30 201.77 519.70 202.70 518.70C203.63 517.70 204.13 511.20 204.90 507.30C205.67 503.40 206.63 494.85 207.30 495.30C207.97 495.75 208.33 504.22 208.90 510.00C209.47 515.78 210.07 528.22 210.70 530.00C211.33 531.78 212.03 523.48 212.70 520.70C213.37 517.92 214.03 513.53 214.70 513.30C215.37 513.07 215.97 514.52 216.70 519.30C217.43 524.08 218.33 541.33 219.10 542.00C219.87 542.67 220.60 529.52 221.30 523.30C222.00 517.08 222.63 508.58 223.30 504.70C223.97 500.82 224.35 499.75 225.30 500.00C226.25 500.25 227.72 503.17 229.00 506.20C230.28 509.23 231.67 513.87 233.00 518.20C234.33 522.53 235.50 527.53 237.00 532.20C238.50 536.87 240.83 546.53 242.00 546.20C243.17 545.87 243.33 539.55 244.00 530.20C244.67 520.85 245.33 505.13 246.00 490.10C246.67 475.07 247.57 455.82 248.00 440.00C248.43 424.18 248.28 409.35 248.60 395.20C248.92 381.05 249.47 366.00 249.90 355.10C250.33 344.20 250.80 334.28 251.20 329.80C251.60 325.32 251.82 327.67 252.30 328.20C252.78 328.73 253.47 327.52 254.10 333.00C254.73 338.48 255.43 351.40 256.10 361.10C256.77 370.80 257.43 382.18 258.10 391.20C258.77 400.22 259.50 407.90 260.10 415.20C260.70 422.50 261.03 427.52 261.70 435.00C262.37 442.48 263.03 450.92 264.10 460.10C265.17 469.28 266.60 479.42 268.10 490.10C269.60 500.78 271.53 514.92 273.10 524.20C274.67 533.48 276.33 545.47 277.50 545.80C278.67 546.13 279.33 533.82 280.10 526.20C280.87 518.58 281.43 509.45 282.10 500.10C282.77 490.75 283.43 480.12 284.10 470.10C284.77 460.08 285.48 449.83 286.10 440.00C286.72 430.17 287.20 417.40 287.80 411.10C288.40 404.80 289.00 404.08 289.70 402.20C290.40 400.32 291.03 399.50 292.00 399.80C292.97 400.10 293.93 400.57 295.50 404.00C297.07 407.43 299.25 414.53 301.40 420.40C303.55 426.27 306.07 433.53 308.40 439.20C310.73 444.87 312.67 448.93 315.40 454.40C318.13 459.87 321.67 466.33 324.80 472.00C327.93 477.67 331.08 483.33 334.20 488.40C337.32 493.47 340.38 497.92 343.50 502.40C346.62 506.88 350.17 511.58 352.90 515.30C355.63 519.02 358.73 523.13 359.90 524.70" stroke="#0e2d94" stroke-width="2.5" fill="none" stroke-linejoin="round" stroke-linecap="round"/><path d="M449.50 387.50C449.83 387.42 450.75 386.92 451.50 387.00C452.25 387.08 453.17 388.03 454.00 388.00C454.83 387.97 455.83 386.88 456.50 386.80C457.17 386.72 457.42 386.55 458.00 387.50C458.58 388.45 459.17 392.17 460.00 392.50C460.83 392.83 462.00 390.58 463.00 389.50C464.00 388.42 465.00 386.42 466.00 386.00C467.00 385.58 468.00 387.03 469.00 387.00C470.00 386.97 471.17 386.13 472.00 385.80C472.83 385.47 473.33 384.80 474.00 385.00C474.67 385.20 475.33 387.33 476.00 387.00C476.67 386.67 477.42 383.17 478.00 383.00C478.58 382.83 478.97 386.50 479.50 386.00C480.03 385.50 480.62 380.42 481.20 380.00C481.78 379.58 482.37 382.17 483.00 383.50C483.63 384.83 484.17 387.00 485.00 388.00C485.83 389.00 486.83 388.92 488.00 389.50C489.17 390.08 490.67 390.75 492.00 391.50C493.33 392.25 494.67 393.08 496.00 394.00C497.33 394.92 498.83 395.58 500.00 397.00C501.17 398.42 502.23 402.00 503.00 402.50C503.77 403.00 503.93 400.58 504.60 400.00C505.27 399.42 506.08 398.83 507.00 399.00C507.92 399.17 509.25 400.33 510.10 401.00C510.95 401.67 511.43 402.92 512.10 403.00C512.77 403.08 513.43 401.25 514.10 401.50C514.77 401.75 515.60 403.25 516.10 404.50C516.60 405.75 516.72 409.20 517.10 409.00C517.48 408.80 517.80 405.18 518.40 403.30C519.00 401.42 519.75 399.02 520.70 397.70C521.65 396.38 522.97 396.25 524.10 395.40C525.23 394.55 526.37 393.35 527.50 392.60C528.63 391.85 529.77 391.28 530.90 390.90C532.03 390.52 533.17 390.68 534.30 390.30C535.43 389.92 536.57 388.78 537.70 388.60C538.83 388.42 539.97 388.45 541.10 389.20C542.23 389.95 543.57 392.35 544.50 393.10C545.43 393.85 545.95 394.17 546.70 393.70C547.45 393.23 547.87 391.05 549.00 390.30C550.13 389.55 552.17 389.52 553.50 389.20C554.83 388.88 555.85 388.22 557.00 388.40C558.15 388.58 559.27 389.42 560.40 390.30C561.53 391.18 562.67 393.13 563.80 393.70C564.93 394.27 566.07 393.80 567.20 393.70C568.33 393.60 569.47 392.72 570.60 393.10C571.73 393.48 572.87 394.95 574.00 396.00C575.13 397.05 576.27 398.47 577.40 399.40C578.53 400.33 579.67 401.60 580.80 401.60C581.93 401.60 583.07 399.58 584.20 399.40C585.33 399.22 586.57 399.65 587.60 400.50C588.63 401.35 589.62 403.33 590.40 404.50C591.18 405.67 591.53 408.50 592.30 407.50C593.07 406.50 594.05 399.25 595.00 398.50C595.95 397.75 597.00 401.42 598.00 403.00C599.00 404.58 599.83 407.67 601.00 408.00C602.17 408.33 603.67 405.67 605.00 405.00C606.33 404.33 607.65 405.17 609.00 404.00C610.35 402.83 611.58 400.50 613.10 398.00C614.62 395.50 616.60 390.00 618.10 389.00C619.60 388.00 621.12 391.17 622.10 392.00C623.08 392.83 623.35 394.52 624.00 394.00C624.65 393.48 625.25 391.60 626.00 388.90C626.75 386.20 627.65 381.65 628.50 377.80C629.35 373.95 630.23 369.35 631.10 365.80C631.97 362.25 632.85 358.63 633.70 356.50C634.55 354.37 635.50 353.87 636.20 353.00C636.90 352.13 637.33 352.43 637.90 351.30C638.47 350.17 639.03 347.47 639.60 346.20C640.17 344.93 640.73 343.83 641.30 343.70C641.87 343.57 642.43 345.70 643.00 345.40C643.57 345.10 643.98 341.90 644.70 341.90C645.42 341.90 646.43 344.40 647.30 345.40C648.17 346.40 648.77 347.05 649.90 347.90C651.03 348.75 652.25 349.42 654.10 350.50C655.95 351.58 658.72 353.75 661.00 354.40C663.28 355.05 665.53 354.20 667.80 354.40C670.07 354.60 672.33 355.17 674.60 355.60C676.87 356.03 678.83 356.63 681.40 357.00C683.97 357.37 687.43 357.40 690.00 357.80C692.57 358.20 694.25 358.68 696.80 359.40C699.35 360.12 702.45 361.25 705.30 362.10C708.15 362.95 711.05 363.88 713.90 364.50C716.75 365.12 719.85 365.02 722.40 365.80C724.95 366.58 727.35 368.33 729.20 369.20C731.05 370.07 731.78 370.62 733.50 371.00C735.22 371.38 737.72 371.17 739.50 371.50C741.28 371.83 743.42 372.75 744.20 373.00" stroke="#e8101e" stroke-width="2.5" fill="none" stroke-linejoin="round" stroke-linecap="round"/><path d="M449.50 385.00C449.83 385.42 450.83 386.50 451.50 387.50C452.17 388.50 452.83 391.08 453.50 391.00C454.17 390.92 454.83 387.58 455.50 387.00C456.17 386.42 456.92 386.33 457.50 387.50C458.08 388.67 458.58 391.92 459.00 394.00C459.42 396.08 459.50 399.42 460.00 400.00C460.50 400.58 461.25 398.83 462.00 397.50C462.75 396.17 463.75 392.88 464.50 392.00C465.25 391.12 465.67 391.95 466.50 392.20C467.33 392.45 468.50 393.12 469.50 393.50C470.50 393.88 471.58 393.92 472.50 394.50C473.42 395.08 474.25 396.72 475.00 397.00C475.75 397.28 476.42 396.03 477.00 396.20C477.58 396.37 478.00 397.28 478.50 398.00C479.00 398.72 479.42 399.50 480.00 400.50C480.58 401.50 481.33 402.83 482.00 404.00C482.67 405.17 483.17 406.50 484.00 407.50C484.83 408.50 485.83 409.25 487.00 410.00C488.17 410.75 489.50 411.33 491.00 412.00C492.50 412.67 494.50 413.17 496.00 414.00C497.50 414.83 498.83 415.75 500.00 417.00C501.17 418.25 502.17 420.92 503.00 421.50C503.83 422.08 504.25 420.42 505.00 420.50C505.75 420.58 506.67 422.42 507.50 422.00C508.33 421.58 509.25 418.08 510.00 418.00C510.75 417.92 511.33 421.17 512.00 421.50C512.67 421.83 513.42 419.67 514.00 420.00C514.58 420.33 514.95 423.82 515.50 423.50C516.05 423.18 516.63 420.90 517.30 418.10C517.97 415.30 518.75 409.45 519.50 406.70C520.25 403.95 520.85 402.92 521.80 401.60C522.75 400.28 524.07 399.73 525.20 398.80C526.33 397.87 527.47 396.85 528.60 396.00C529.73 395.15 530.87 394.65 532.00 393.70C533.13 392.75 534.27 391.05 535.40 390.30C536.53 389.55 537.67 389.20 538.80 389.20C539.93 389.20 541.25 389.55 542.20 390.30C543.15 391.05 543.83 392.75 544.50 393.70C545.17 394.65 545.55 396.10 546.20 396.00C546.85 395.90 547.55 393.87 548.40 393.10C549.25 392.33 550.07 391.77 551.30 391.40C552.53 391.03 554.48 390.80 555.80 390.90C557.12 391.00 558.07 391.25 559.20 392.00C560.33 392.75 561.65 394.65 562.60 395.40C563.55 396.15 563.95 396.68 564.90 396.50C565.85 396.32 567.17 394.58 568.30 394.30C569.43 394.02 570.57 393.95 571.70 394.80C572.83 395.65 573.97 397.88 575.10 399.40C576.23 400.92 577.55 402.90 578.50 403.90C579.45 404.90 579.95 405.40 580.80 405.40C581.65 405.40 582.67 404.33 583.60 403.90C584.53 403.47 585.55 402.13 586.40 402.80C587.25 403.47 588.02 406.02 588.70 407.90C589.38 409.78 590.02 412.23 590.50 414.10C590.98 415.97 591.18 418.93 591.60 419.10C592.02 419.27 592.53 416.43 593.00 415.10C593.47 413.77 594.00 409.60 594.40 411.10C594.80 412.60 595.07 419.27 595.40 424.10C595.73 428.93 596.07 434.75 596.40 440.10C596.73 445.45 596.97 451.52 597.40 456.20C597.83 460.88 598.23 464.53 599.00 468.20C599.77 471.87 600.83 475.53 602.00 478.20C603.17 480.87 604.83 482.03 606.00 484.20C607.17 486.37 607.98 489.03 609.00 491.20C610.02 493.37 610.92 496.87 612.10 497.20C613.28 497.53 614.60 494.53 616.10 493.20C617.60 491.87 619.43 489.53 621.10 489.20C622.77 488.87 624.60 492.37 626.10 491.20C627.60 490.03 628.77 486.03 630.10 482.20C631.43 478.37 632.77 471.53 634.10 468.20C635.43 464.87 637.00 464.88 638.10 462.20C639.20 459.52 639.97 453.95 640.70 452.10C641.43 450.25 641.78 452.38 642.50 451.10C643.22 449.82 644.22 444.92 645.00 444.40C645.78 443.88 646.35 446.80 647.20 448.00C648.05 449.20 648.90 450.72 650.10 451.60C651.30 452.48 652.48 452.77 654.40 453.30C656.32 453.83 659.20 454.43 661.60 454.80C664.00 455.17 666.40 455.18 668.80 455.50C671.20 455.82 673.60 456.47 676.00 456.70C678.40 456.93 680.32 456.98 683.20 456.90C686.08 456.82 690.42 456.12 693.30 456.20C696.18 456.28 697.85 456.85 700.50 457.40C703.15 457.95 706.55 459.02 709.20 459.50C711.85 459.98 713.52 460.25 716.40 460.30C719.28 460.35 723.87 459.57 726.50 459.80C729.13 460.03 729.80 460.90 732.20 461.70C734.60 462.50 738.85 463.93 740.90 464.60C742.95 465.27 743.90 465.52 744.50 465.70" stroke="#0e2d94" stroke-width="2.5" fill="none" stroke-linejoin="round" stroke-linecap="round"/></svg></body></html>
